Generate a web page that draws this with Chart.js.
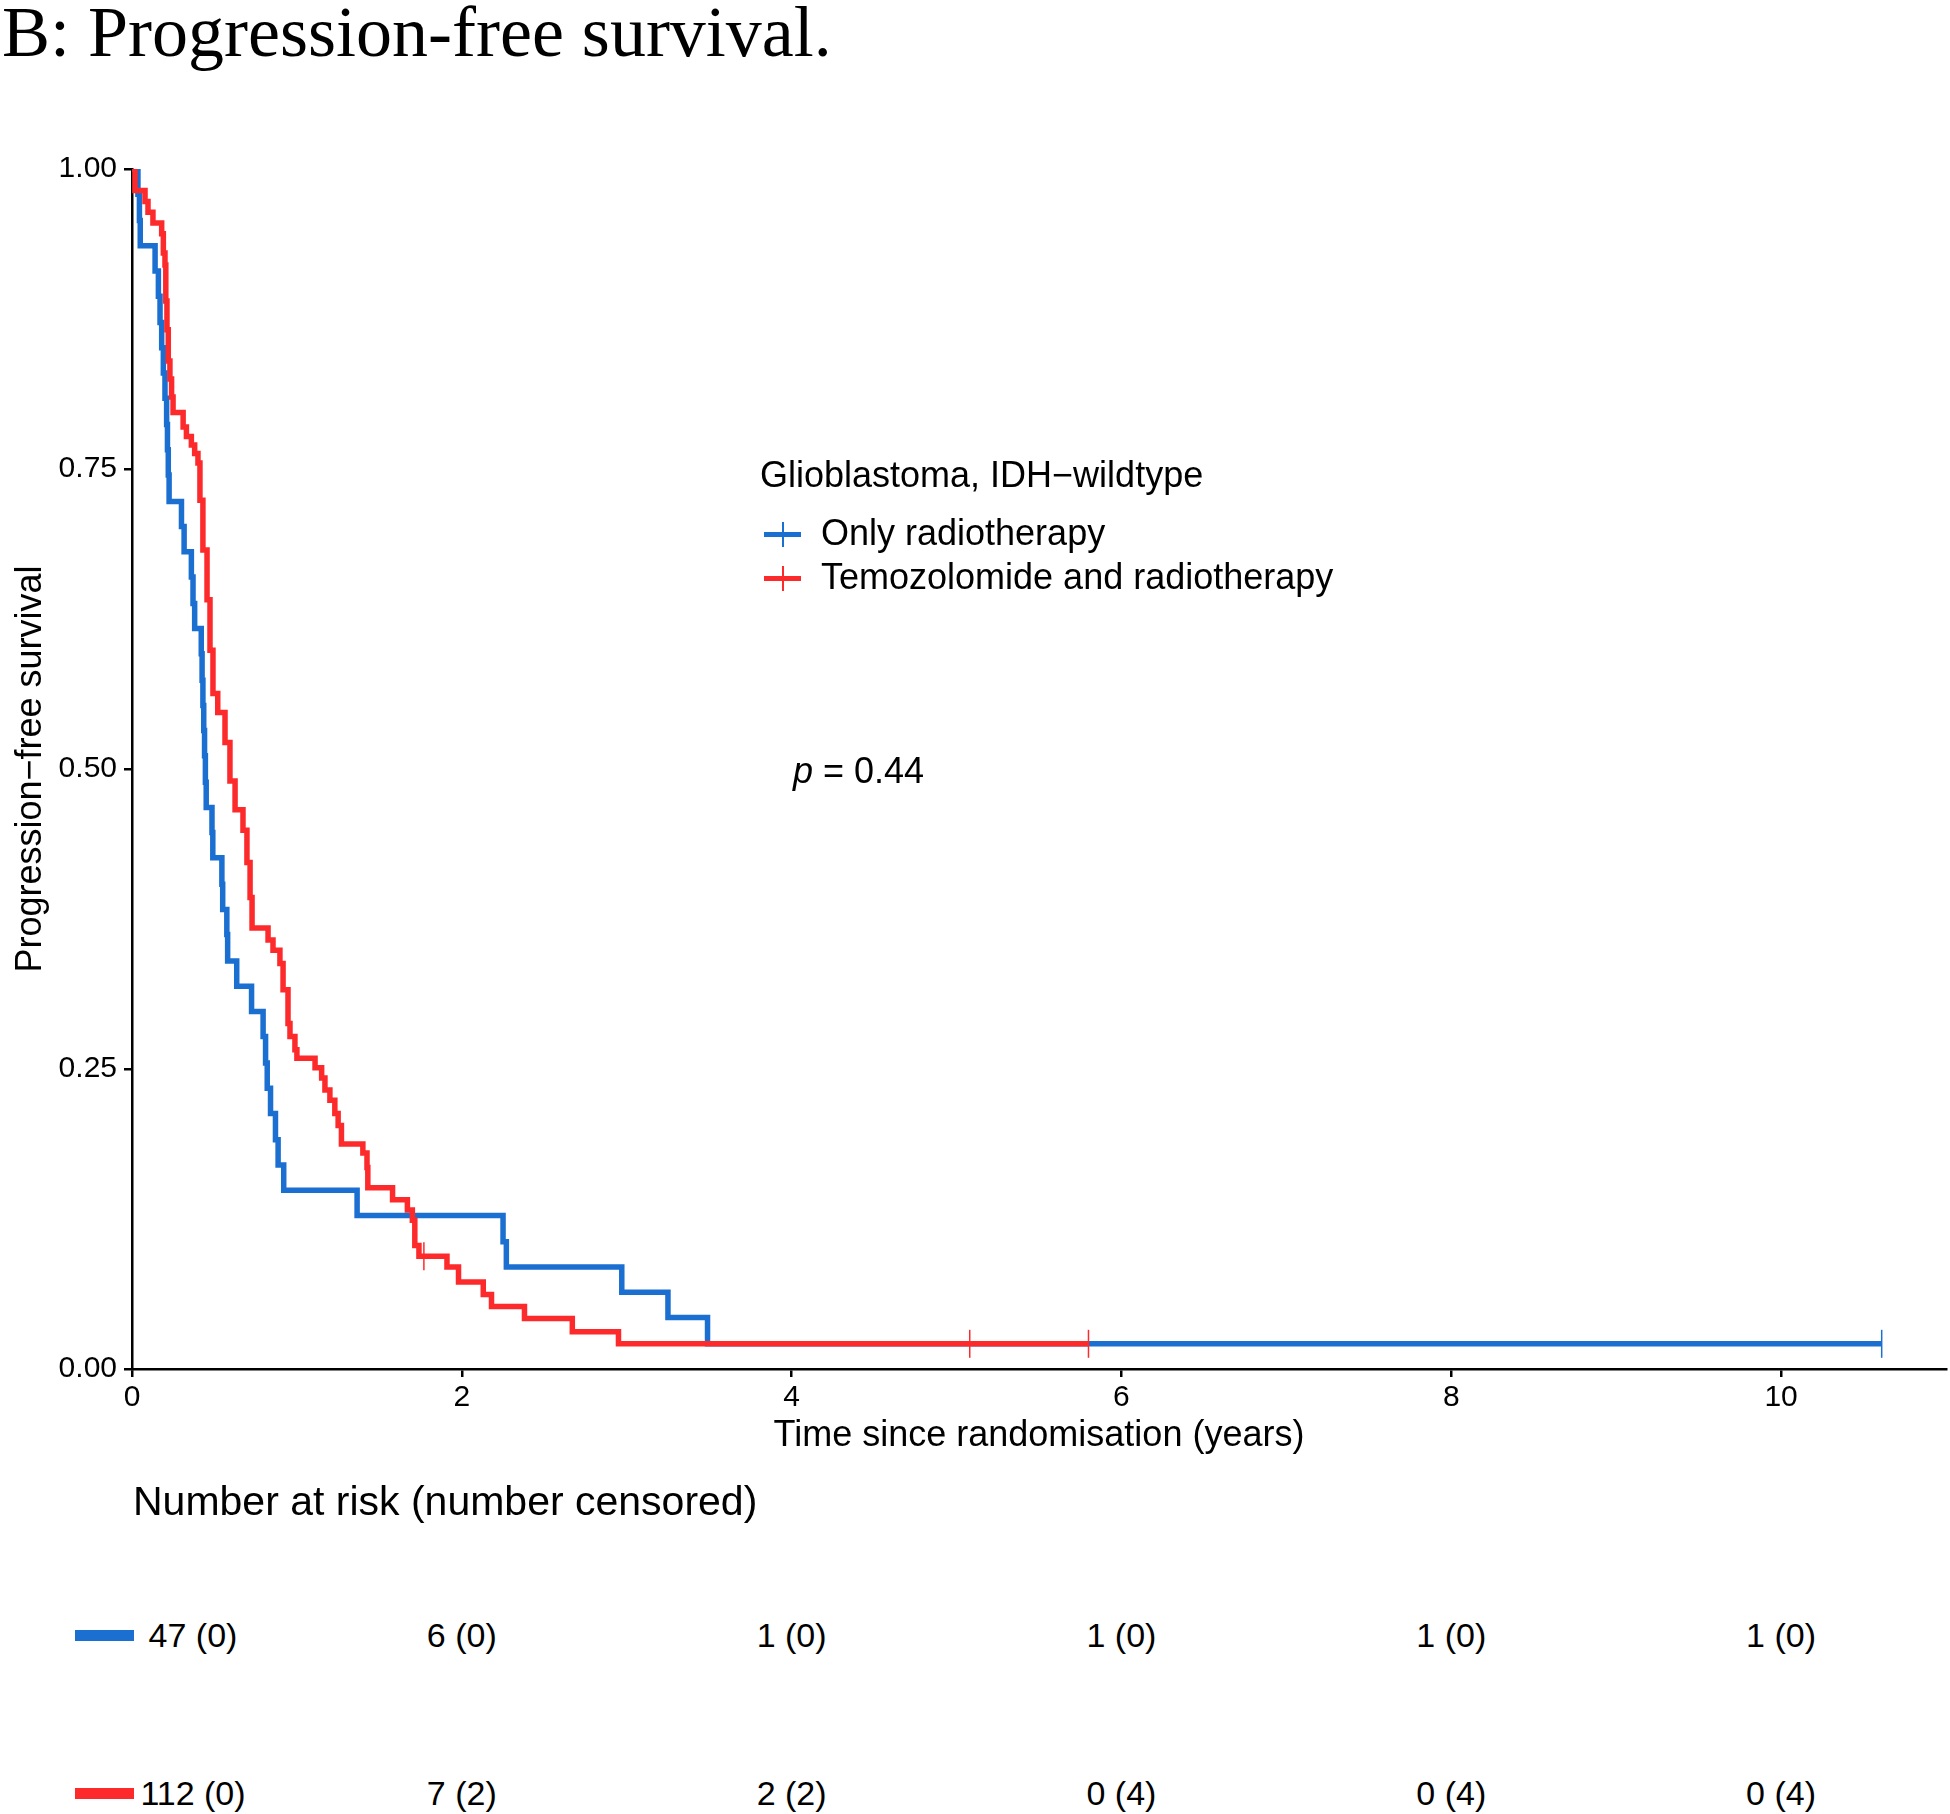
<!DOCTYPE html>
<html>
<head>
<meta charset="utf-8">
<script src="https://cdn.jsdelivr.net/npm/chart.js@4.4.0/dist/chart.umd.min.js"></script>
<style>
  body { margin: 0; background: #fff; width: 1950px; height: 1814px; position: relative; overflow: hidden;
         font-family: 'Liberation Sans', Arial, sans-serif; color: #000; }
  #wrap { position: absolute; left: 0; top: 0; width: 1950px; height: 1480px; }
  .txt { position: absolute; white-space: nowrap; }
  .key { position: absolute; width: 37px; height: 25px; }
  .key .h { position: absolute; left: 0; top: 10px; width: 37px; height: 5px; }
  .key .v { position: absolute; left: 17.5px; top: 0; width: 2px; height: 25px; }
  .bar { position: absolute; left: 75px; width: 59px; height: 11px; }
</style>
</head>
<body>
<div id="wrap"><canvas id="kmChart" width="1950" height="1480"></canvas></div>

<script>
// Kaplan-Meier curves (time in years, survival after each event)
const blueTimes = [0, 0.036, 0.045, 0.05, 0.14, 0.16, 0.17, 0.18, 0.19, 0.20, 0.21, 0.215, 0.22, 0.225, 0.30, 0.316,
  0.36, 0.37, 0.38, 0.42, 0.425, 0.43, 0.435, 0.44, 0.445, 0.45, 0.485, 0.49, 0.545, 0.55, 0.575, 0.58, 0.635, 0.725,
  0.795, 0.81, 0.82, 0.84, 0.87, 0.886, 0.92, 1.365, 2.25, 2.27, 2.97, 3.25, 3.49, 10.61];
const blueSurv = [1, 0.979, 0.957, 0.936, 0.915, 0.894, 0.872, 0.851, 0.830, 0.809, 0.787, 0.766, 0.745, 0.723, 0.702, 0.681,
  0.660, 0.638, 0.617, 0.596, 0.574, 0.553, 0.532, 0.511, 0.489, 0.468, 0.447, 0.426, 0.404, 0.383, 0.362, 0.340, 0.319, 0.298,
  0.277, 0.255, 0.234, 0.213, 0.191, 0.170, 0.149, 0.128, 0.106, 0.085, 0.064, 0.043, 0.021, 0.021];

const redTimes = [0, 0.018, 0.079, 0.097, 0.127, 0.18, 0.19, 0.2, 0.205, 0.212, 0.22, 0.23, 0.24, 0.249, 0.31, 0.33,
  0.36, 0.38, 0.40, 0.412, 0.43, 0.455, 0.473, 0.491, 0.52, 0.564, 0.594, 0.625, 0.673, 0.697, 0.716, 0.728, 0.825,
  0.855, 0.897, 0.916, 0.946, 0.958, 0.988, 1.0, 1.11, 1.15, 1.17, 1.2, 1.23, 1.25, 1.27, 1.40, 1.425, 1.43, 1.58,
  1.67, 1.70, 1.715, 1.74, 1.91, 1.98, 2.13, 2.18, 2.38, 2.67, 2.95, 5.80];
const redSurv = [1, 0.982, 0.973, 0.964, 0.955, 0.946, 0.93, 0.92, 0.89, 0.866, 0.84, 0.825, 0.81, 0.797, 0.785, 0.777,
  0.77, 0.763, 0.755, 0.724, 0.6825, 0.641, 0.599, 0.563, 0.547, 0.522, 0.49, 0.466, 0.449, 0.422, 0.393, 0.3675, 0.3575,
  0.349, 0.338, 0.316, 0.288, 0.277, 0.266, 0.259, 0.251, 0.2425, 0.2325, 0.224, 0.213, 0.203, 0.1875, 0.18, 0.168, 0.151, 0.141,
  0.1325, 0.124, 0.103, 0.094, 0.085, 0.0725, 0.062, 0.052, 0.042, 0.031, 0.021, 0.021];

// censoring marks
const blueCensorTimes = [10.61];
const blueCensorSurv = [0.021];
const redCensorTimes = [1.77, 5.08, 5.80];
const redCensorSurv = [0.094, 0.021, 0.021];

const groupNames = ['Only radiotherapy', 'Temozolomide and radiotherapy'];
const legendTitle = 'Glioblastoma, IDH\u2212wildtype';
const pValueText = '= 0.44';

const xTicks = [0, 2, 4, 6, 8, 10];
const yTicks = [0, 0.25, 0.5, 0.75, 1];

// number at risk table
const riskTimes = [0, 2, 4, 6, 8, 10];
const riskBlue = ['47 (0)', '6 (0)', '1 (0)', '1 (0)', '1 (0)', '1 (0)'];
const riskRed = ['112 (0)', '7 (2)', '2 (2)', '0 (4)', '0 (4)', '0 (4)'];

const blueColor = '#1b6fd1';
const redColor = '#fd2a2c';
const font = "'Liberation Sans', Arial, sans-serif";

function toPoints(xs, ys) {
    return xs.map((x, i) => ({ x: x, y: ys[i] }));
}

const ctx = document.getElementById('kmChart').getContext('2d');

const chart = new Chart(ctx, {
    type: 'line',
    data: {
        datasets: [
            {
                label: groupNames[0],
                data: toPoints(blueTimes, blueSurv),
                borderColor: blueColor,
                borderWidth: 5.5,
                stepped: true,
                pointRadius: 0,
                fill: false,
                order: 3
            },
            {
                label: groupNames[1],
                data: toPoints(redTimes, redSurv),
                borderColor: redColor,
                borderWidth: 5.5,
                stepped: true,
                pointRadius: 0,
                fill: false,
                order: 2
            },
            {
                label: 'censored 1',
                data: toPoints(blueCensorTimes, blueCensorSurv),
                showLine: false,
                pointStyle: 'line',
                rotation: 90,
                pointRadius: 14,
                borderColor: blueColor,
                backgroundColor: blueColor,
                pointBorderWidth: 1.5,
                order: 1
            },
            {
                label: 'censored 2',
                data: toPoints(redCensorTimes, redCensorSurv),
                showLine: false,
                pointStyle: 'line',
                rotation: 90,
                pointRadius: 14,
                borderColor: redColor,
                backgroundColor: redColor,
                pointBorderWidth: 1.5,
                order: 0
            }
        ]
    },
    options: {
        responsive: false,
        animation: false,
        devicePixelRatio: 1,
        layout: { autoPadding: false, padding: { left: 0, top: 169, right: 4, bottom: 0 } },
        plugins: {
            legend: { display: false },
            tooltip: { enabled: false }
        },
        scales: {
            x: {
                type: 'linear',
                min: 0,
                max: 11,
                afterFit: (s) => { s.height = 111; s.paddingLeft = 0; s.paddingRight = 0; },
                afterBuildTicks: (s) => { s.ticks = xTicks.map(v => ({ value: v })); },
                border: { display: true, color: '#000', width: 2.5 },
                grid: { display: true, drawOnChartArea: false, drawTicks: true, tickLength: 8, color: '#000', lineWidth: 2.5 },
                ticks: { color: '#000', padding: 3, font: { family: font, size: 30 }, maxRotation: 0 },
                title: { display: true, text: 'Time since randomisation (years)', color: '#000',
                         font: { family: font, size: 36 }, padding: { top: 0, bottom: 22 } }
            },
            y: {
                min: 0,
                max: 1,
                afterFit: (s) => { s.width = 132; s.paddingTop = 0; s.paddingBottom = 0; },
                afterBuildTicks: (s) => { s.ticks = yTicks.map(v => ({ value: v })); },
                border: { display: true, color: '#000', width: 2.5 },
                grid: { display: true, drawOnChartArea: false, drawTicks: true, tickLength: 8, color: '#000', lineWidth: 2.5 },
                ticks: { color: '#000', padding: 7, font: { family: font, size: 30 }, callback: (v) => Number(v).toFixed(2) },
                title: { display: true, text: 'Progression\u2212free survival', color: '#000',
                         font: { family: font, size: 36 }, padding: { top: 9, bottom: 0 } }
            }
        }
    }
});

// text and keys around the plot
function addText(text, left, centerY, size, opts) {
    const d = document.createElement('div');
    d.className = 'txt';
    d.innerHTML = text;
    d.style.left = left + 'px';
    d.style.top = (centerY - size / 2) + 'px';
    d.style.fontSize = size + 'px';
    d.style.lineHeight = size + 'px';
    if (opts && opts.center) d.style.transform = 'translateX(-50%)';
    if (opts && opts.family) d.style.fontFamily = opts.family;
    document.body.appendChild(d);
    return d;
}

function addKey(color, left, centerY) {
    const k = document.createElement('div');
    k.className = 'key';
    k.style.left = left + 'px';
    k.style.top = (centerY - 12.5) + 'px';
    k.innerHTML = '<div class="h" style="background:' + color + '"></div><div class="v" style="background:' + color + '"></div>';
    document.body.appendChild(k);
}

// figure title
addText('B: Progression-free survival.', 2, 32, 72, { family: "'Liberation Serif', 'Times New Roman', serif" });

// legend
addText(legendTitle, 760, 475, 36);
addKey(blueColor, 764, 534);
addText(groupNames[0], 821, 533, 36);
addKey(redColor, 764, 578);
addText(groupNames[1], 821, 577, 36);

// p value
addText('<i>p</i> ' + pValueText, 793, 771, 36);

// number at risk
addText('Number at risk (number censored)', 133, 1501, 41);

const xScale = chart.scales.x;
const rowY = [1635, 1793];
[riskBlue, riskRed].forEach((row, r) => {
    const bar = document.createElement('div');
    bar.className = 'bar';
    bar.style.top = (rowY[r] - 5.5) + 'px';
    bar.style.background = r === 0 ? blueColor : redColor;
    document.body.appendChild(bar);
    row.forEach((label, i) => {
        let px = xScale.getPixelForValue(riskTimes[i]);
        if (i === 0) px += 61; // first column sits right of the colour bar
        addText(label, px, rowY[r], 34, { center: true });
    });
});
</script>
</body>
</html>
